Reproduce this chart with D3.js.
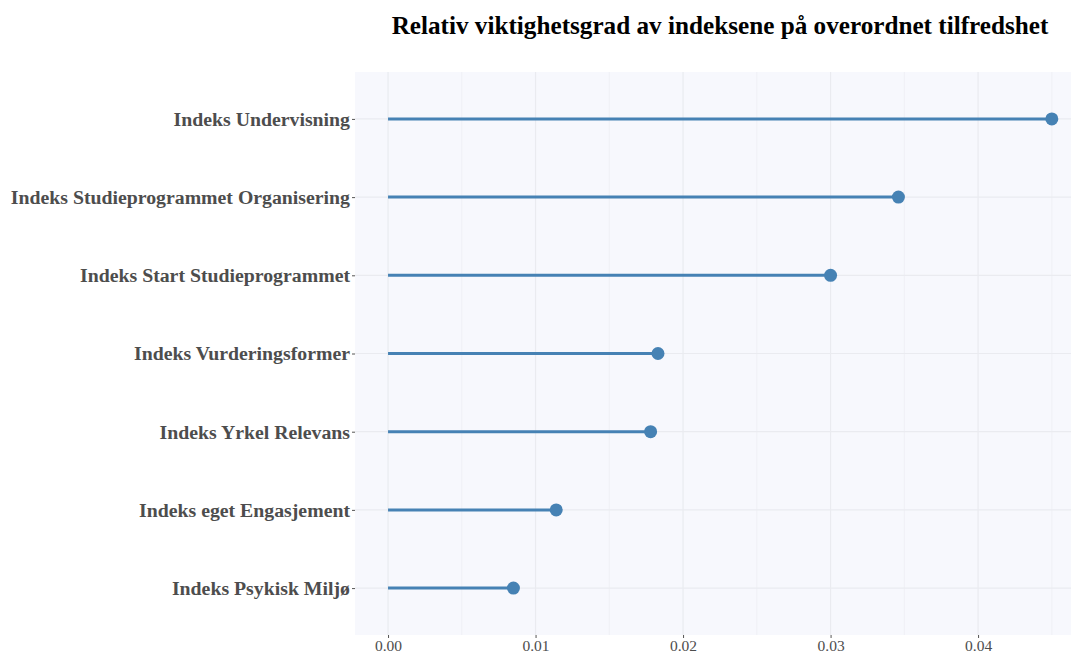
<!DOCTYPE html>
<html>
<head>
<meta charset="utf-8">
<script src="https://cdn.jsdelivr.net/npm/d3@7"></script>
<style>
  body { margin: 0; background: #fff; }
  text { font-family: "Liberation Serif", "Times New Roman", serif; }
</style>
</head>
<body>
<script>
// indices, top to bottom
var categories = [
  "Indeks Undervisning",
  "Indeks Studieprogrammet Organisering",
  "Indeks Start Studieprogrammet",
  "Indeks Vurderingsformer",
  "Indeks Yrkel Relevans",
  "Indeks eget Engasjement",
  "Indeks Psykisk Miljø"
];
var values = [0.0450, 0.0346, 0.0300, 0.0183, 0.0178, 0.0114, 0.0085];
var xTicks = [0, 0.01, 0.02, 0.03, 0.04];
var xMinor = [0.005, 0.015, 0.025, 0.035, 0.045];

var width = 1071, height = 653;
var margin = {top: 72, right: 0, bottom: 18, left: 355};

var svg = d3.select("body").append("svg")
    .attr("width", width)
    .attr("height", height);

var x = d3.scaleLinear()
    .domain([-0.00224, 0.0463])
    .range([margin.left, width - margin.right]);

var y = d3.scalePoint()
    .domain(categories)
    .range([margin.top, height - margin.bottom])
    .padding(0.6);

// panel
svg.append("rect")
    .attr("x", margin.left)
    .attr("y", margin.top)
    .attr("width", width - margin.right - margin.left)
    .attr("height", height - margin.bottom - margin.top)
    .attr("fill", "#f7f8fd");

// grid
svg.selectAll(".minor")
    .data(xMinor)
    .enter().append("line")
    .attr("x1", function(d) { return x(d); })
    .attr("x2", function(d) { return x(d); })
    .attr("y1", margin.top)
    .attr("y2", height - margin.bottom)
    .attr("stroke", "#eff0f5")
    .attr("stroke-width", 1);

svg.selectAll(".major")
    .data(xTicks)
    .enter().append("line")
    .attr("x1", function(d) { return x(d); })
    .attr("x2", function(d) { return x(d); })
    .attr("y1", margin.top)
    .attr("y2", height - margin.bottom)
    .attr("stroke", "#eaebf0")
    .attr("stroke-width", 1.2);

svg.selectAll(".hgrid")
    .data(categories)
    .enter().append("line")
    .attr("x1", margin.left)
    .attr("x2", width - margin.right)
    .attr("y1", function(d) { return y(d); })
    .attr("y2", function(d) { return y(d); })
    .attr("stroke", "#eaebf0")
    .attr("stroke-width", 1.2);

// axes
var xAxis = svg.append("g")
    .attr("transform", "translate(0," + (height - margin.bottom) + ")")
    .call(d3.axisBottom(x).tickValues(xTicks).tickFormat(d3.format(".2f")).tickSize(3).tickPadding(2));
xAxis.select(".domain").remove();
xAxis.selectAll("line").attr("stroke", "#555");
xAxis.selectAll("text")
    .attr("fill", "#4d4d4d")
    .style("font-size", "15.5px");

var yAxis = svg.append("g")
    .attr("transform", "translate(" + margin.left + ",0)")
    .call(d3.axisLeft(y).tickSize(3).tickPadding(2));
yAxis.select(".domain").remove();
yAxis.selectAll("line").attr("stroke", "#555");
yAxis.selectAll("text")
    .attr("fill", "#4d4d4d")
    .style("font-size", "19.8px")
    .style("font-weight", "bold");

// lollipops
var data = categories.map(function(c, i) { return {name: c, value: values[i]}; });

svg.selectAll(".stick")
    .data(data)
    .enter().append("line")
    .attr("x1", x(0))
    .attr("x2", function(d) { return x(d.value); })
    .attr("y1", function(d) { return y(d.name); })
    .attr("y2", function(d) { return y(d.name); })
    .attr("stroke", "#4682b4")
    .attr("stroke-width", 3);

svg.selectAll(".dot")
    .data(data)
    .enter().append("circle")
    .attr("cx", function(d) { return x(d.value); })
    .attr("cy", function(d) { return y(d.name); })
    .attr("r", 6.5)
    .attr("fill", "#4682b4");

// title
svg.append("text")
    .attr("x", 720)
    .attr("y", 34)
    .attr("text-anchor", "middle")
    .style("font-size", "25.2px")
    .style("font-weight", "bold")
    .attr("fill", "#000")
    .text("Relativ viktighetsgrad av indeksene på overordnet tilfredshet");
</script>
</body>
</html>
